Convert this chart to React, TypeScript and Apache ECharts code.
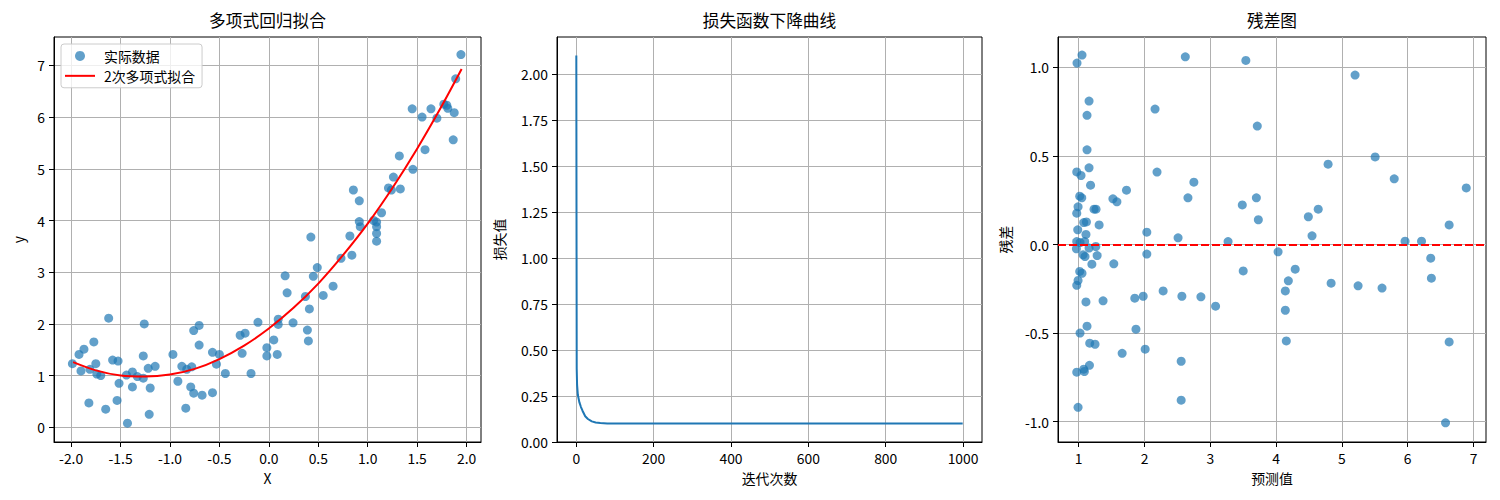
import React, { useEffect, useRef } from "react";
import * as echarts from "echarts";

const FONT = "'Noto Sans CJK JP', 'Noto Sans', sans-serif";

// ---- Panel 1: data points (X, y) ----
const dataX = [
  -1.987, -1.92, -1.87, -1.9, -1.81, -1.77, -1.75, -1.74, -1.7, -1.82,
  -1.62, -1.65, -1.58, -1.525, -1.535, -1.515, -1.43, -1.44, -1.38, -1.38,
  -1.33, -1.27, -1.27, -1.26, -1.22, -1.2, -1.21, -1.15, -0.97, -0.92,
  -0.88, -0.83, -0.78, -0.84, -0.79, -0.76, -0.675, -0.76, -0.705, -0.705,
  -0.57, -0.5, -0.53, -0.57, -0.44, -0.29, -0.24, -0.27, -0.18, -0.11,
  -0.02, -0.02, 0.05, 0.085, 0.095, 0.095, 0.165, 0.185, 0.245, 0.37,
  0.39, 0.4, 0.41, 0.425, 0.45, 0.49, 0.55, 0.65, 0.73, 0.84,
  0.82, 1.943, 1.89, 1.865, 1.875, 1.8, 1.77, 1.81, 1.7, 1.64,
  1.55, 1.45, 1.58, 1.457, 1.32, 1.26, 1.21, 1.24, 1.33, 0.855,
  0.915, 1.14, 1.09, 1.06, 0.915, 0.925, 1.09, 1.09, 1.09,
];
const dataY = [
  1.23, 1.41, 1.51, 1.09, 1.12, 1.65, 1.23, 1.03, 1.0, 0.47,
  2.11, 0.35, 1.3, 1.28, 0.52, 0.85, 0.08, 1.01, 1.07, 0.78,
  0.98, 0.95, 1.38, 2.0, 1.14, 0.76, 0.25, 1.18, 1.41, 0.89,
  1.18, 1.12, 1.17, 0.37, 0.78, 0.66, 0.62, 1.87, 1.97, 1.59,
  1.45, 1.41, 1.22, 0.67, 1.04, 1.78, 1.82, 1.43, 1.04, 2.03,
  1.54, 1.38, 1.69, 1.41, 2.09, 1.99, 2.93, 2.6, 2.02, 2.53,
  1.88, 1.67, 2.29, 3.68, 2.92, 3.09, 2.55, 2.73, 3.27, 3.33,
  3.7, 7.21, 6.74, 5.56, 6.085, 6.23, 6.25, 6.17, 5.98, 6.16,
  6.0, 6.16, 5.37, 4.99, 5.25, 4.84, 4.63, 4.59, 4.61, 4.59,
  4.38, 4.15, 3.97, 4.0, 3.98, 3.88, 3.88, 3.75, 3.6,
];

// ---- Panel 1: fitted quadratic curve ----
const fitX = [-1.98, -1.75, -1.5, -1.25, -1.0, -0.75, -0.5, -0.25, 0, 0.25, 0.5, 0.75, 1.0, 1.25, 1.5, 1.75, 1.95];
const fitY = [1.26, 1.1, 1.0, 0.98, 1.02, 1.13, 1.32, 1.58, 1.91, 2.31, 2.78, 3.33, 3.94, 4.63, 5.39, 6.22, 6.93];

// ---- Panel 2: loss curve ----
const lossIter = [0, 1, 2, 4, 8, 12, 16, 23, 30, 40, 50, 62, 80, 100, 200, 400, 600, 800, 999];
const lossValue = [2.1, 0.4, 0.31, 0.255, 0.215, 0.19, 0.17, 0.14, 0.125, 0.112, 0.106, 0.103, 0.101, 0.1, 0.1, 0.1, 0.1, 0.1, 0.1];

// ---- Panel 3: residuals ----
const predicted = [
  0.974, 1.05, 1.157, 1.126, 1.126, 0.97, 1.035, 1.157, 1.18, 1.015,
  1.046, 0.99, 0.97, 1.233, 1.263, 1.076, 1.117, 1.31, 0.985, 1.11,
  1.52, 1.58, 1.726, 2.16, 2.19, 2.035, 2.62, 2.75, 2.66, 2.51,
  3.486, 3.54, 3.27, 0.97, 1.02, 1.09, 0.965, 1.066, 1.096, 1.157,
  1.26, 1.28, 1.2, 1.533, 2.035, 3.5, 1.015, 1.05, 0.99, 0.97,
  1.11, 1.37, 1.852, 1.98, 2.283, 2.568, 2.857, 3.08, 1.126, 1.02,
  1.87, 1.167, 1.248, 1.66, 2.01, 2.557, 1.163, 1.076, 1.086, 0.97,
  0.99, 2.557, 5.2, 3.714, 4.79, 5.505, 5.795, 6.89, 3.7, 3.73,
  4.49, 4.64, 4.546, 6.63, 5.96, 6.21, 4.03, 6.35, 6.36, 4.29,
  4.186, 4.14, 4.14, 4.155, 4.836, 5.246, 5.61, 6.63, 6.575,
];
const residuals = [
  1.025, 1.07, 0.81, 0.73, 0.535, 0.41, 0.39, 0.433, 0.335, 0.273,
  0.264, 0.213, 0.177, 0.2, 0.2, 0.124, 0.128, 0.111, 0.083, 0.057,
  0.258, 0.241, 0.307, 0.765, 0.409, 0.07, 1.06, 0.352, 0.264, 0.038,
  0.224, 1.04, 0.017, 0.017, 0.011, 0.017, -0.024, -0.058, -0.068, -0.02,
  -0.011, -0.062, -0.111, -0.109, -0.054, -0.149, -0.152, -0.162, -0.203, -0.23,
  -0.324, -0.318, -0.303, -0.292, -0.262, -0.292, -0.295, -0.348, -0.461, -0.5,
  -0.478, -0.557, -0.563, -0.614, -0.591, -0.659, -0.682, -0.704, -0.717, -0.721,
  -0.919, -0.879, 0.957, 0.669, 0.454, 0.495, 0.371, 0.32, 0.264, 0.14,
  0.157, 0.2, 0.049, 0.111, 0.019, 0.019, -0.041, -0.077, -0.19, -0.139,
  -0.205, -0.262, -0.371, -0.544, -0.218, -0.233, -0.246, -0.55, -1.007,
];

// ---- Tick values ----
const fitXTicks = [-2, -1.5, -1, -0.5, 0, 0.5, 1, 1.5, 2];
const fitYTicks = [0, 1, 2, 3, 4, 5, 6, 7];
const lossXTicks = [0, 200, 400, 600, 800, 1000];
const lossYTicks = [0, 0.25, 0.5, 0.75, 1, 1.25, 1.5, 1.75, 2];
const residXTicks = [1, 2, 3, 4, 5, 6, 7];
const residYTicks = [-1, -0.5, 0, 0.5, 1];

const zip = (a: number[], b: number[]) => a.map((v, i) => [v, b[i]]);

function axis(
  gridIndex: number,
  min: number,
  max: number,
  ticks: number[],
  fmt: (v: number) => string,
  name: string,
  nameGap: number
) {
  return {
    type: "value",
    gridIndex,
    min,
    max,
    name,
    nameLocation: "middle",
    nameGap,
    nameTextStyle: { color: "#000", fontSize: 13.9, fontFamily: FONT },
    axisLine: { show: true, onZero: false, lineStyle: { color: "#000", width: 1 } },
    axisTick: {
      show: true,
      inside: false,
      length: 5,
      lineStyle: { color: "#000", width: 1 },
      customValues: ticks,
    },
    axisLabel: {
      show: true,
      margin: 9,
      color: "#000",
      fontSize: 13.9,
      fontFamily: FONT,
      formatter: (v: number) => fmt(v),
      customValues: ticks,
    },
    splitLine: { show: true, lineStyle: { color: "#b0b0b0", width: 1 } },
  };
}

const titleStyle = { fontSize: 16.7, fontWeight: "normal", color: "#000", fontFamily: FONT };

export default function App() {
  const ref = useRef<HTMLDivElement>(null);
  useEffect(() => {
    if (!ref.current) return;
    const chart = echarts.init(ref.current, null, { renderer: "svg" });
    const gridBase = { show: true, borderColor: "#000", borderWidth: 1, backgroundColor: "transparent" };
    chart.setOption({
      animation: false,
      textStyle: { fontFamily: FONT },
      title: [
        { text: "多项式回归拟合", left: 262.5, top: 7, textAlign: "center", textStyle: titleStyle },
        { text: "损失函数下降曲线", left: 764.5, top: 7, textAlign: "center", textStyle: titleStyle },
        { text: "残差图", left: 1267, top: 7, textAlign: "center", textStyle: titleStyle },
      ],
      legend: {
        data: [
          { name: "实际数据", icon: "circle" },
          { name: "2次多项式拟合", icon: "path://M0,0L30,0L30,2L0,2Z" },
        ],
        orient: "vertical",
        left: 61,
        top: 44,
        itemWidth: 30,
        itemHeight: 10,
        itemGap: 6,
        padding: [5, 7, 5, 4],
        backgroundColor: "rgba(255,255,255,0.8)",
        borderColor: "#cccccc",
        borderWidth: 1,
        borderRadius: 3,
        selectedMode: false,
        textStyle: { fontSize: 13.9, color: "#000", fontFamily: FONT, padding: [0, 0, 0, 4] },
      },
      grid: [
        { ...gridBase, left: 54, top: 37, width: 427, height: 405 },
        { ...gridBase, left: 557, top: 37, width: 425, height: 405 },
        { ...gridBase, left: 1058, top: 37, width: 428, height: 405 },
      ],
      xAxis: [
        axis(0, -2.173, 2.146, fitXTicks, (v) => v.toFixed(1), "X", 29),
        axis(1, -49.95, 1048.95, lossXTicks, (v) => String(v), "迭代次数", 29),
        axis(2, 0.685, 7.19, residXTicks, (v) => String(v), "预测值", 29),
      ],
      yAxis: [
        axis(0, -0.285, 7.55, fitYTicks, (v) => String(v), "y", 29),
        axis(1, 0, 2.2, lossYTicks, (v) => v.toFixed(2), "损失值", 51),
        axis(2, -1.115, 1.172, residYTicks, (v) => v.toFixed(1), "残差", 46),
      ],
      series: [
        {
          name: "实际数据",
          type: "scatter",
          xAxisIndex: 0,
          yAxisIndex: 0,
          data: zip(dataX, dataY),
          symbolSize: 9,
          itemStyle: { color: "#1f77b4", opacity: 0.7 },
        },
        {
          name: "2次多项式拟合",
          type: "line",
          xAxisIndex: 0,
          yAxisIndex: 0,
          data: zip(fitX, fitY),
          smooth: 0.3,
          showSymbol: false,
          symbol: "none",
          lineStyle: { color: "#ff0000", width: 2 },
          itemStyle: { color: "#ff0000" },
        },
        {
          name: "loss",
          type: "line",
          xAxisIndex: 1,
          yAxisIndex: 1,
          data: zip(lossIter, lossValue),
          showSymbol: false,
          symbol: "none",
          lineStyle: { color: "#1f77b4", width: 2 },
        },
        {
          name: "残差",
          type: "scatter",
          xAxisIndex: 2,
          yAxisIndex: 2,
          data: zip(predicted, residuals),
          symbolSize: 9,
          itemStyle: { color: "#1f77b4", opacity: 0.7 },
          markLine: {
            silent: true,
            symbol: "none",
            label: { show: false },
            lineStyle: { color: "#ff0000", type: [8, 3], width: 2 },
            data: [{ yAxis: 0 }],
          },
        },
      ],
    });
    return () => chart.dispose();
  }, []);
  return (
    <div
      ref={ref}
      style={{ position: "fixed", left: 0, top: 0, width: 1500, height: 500, background: "#fff" }}
    />
  );
}
